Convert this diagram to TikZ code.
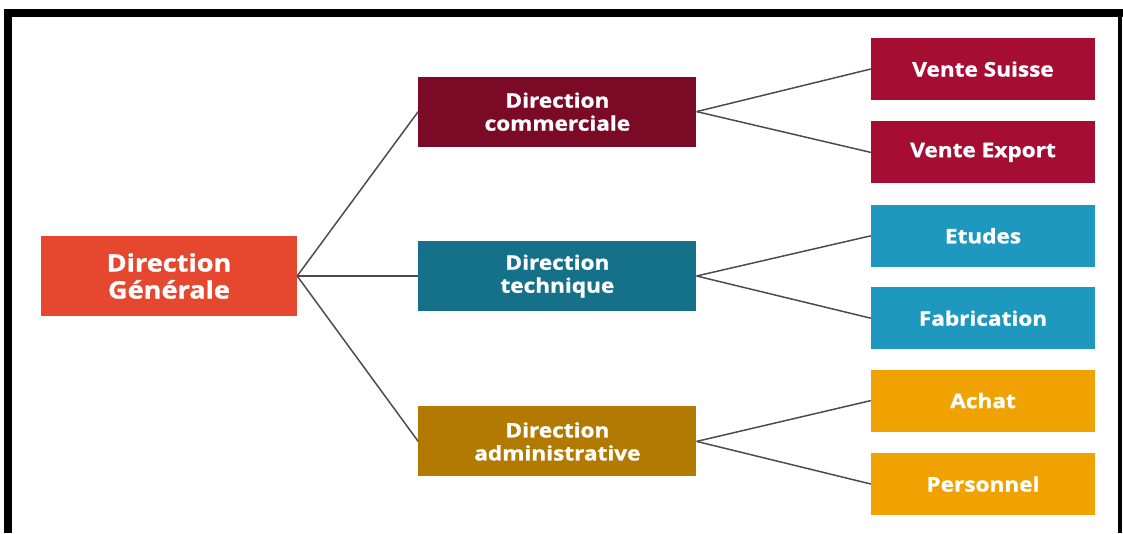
\documentclass[tikz,border=0pt]{standalone}
\usepackage{fontspec}
\setmainfont{Open Sans}[FakeStretch=1.13, BoldFeatures={FakeBold=1.2}]
\usetikzlibrary{positioning}

\definecolor{dgred}{HTML}{E5482F}
\definecolor{comwine}{HTML}{7A0A26}
\definecolor{techteal}{HTML}{15708A}
\definecolor{admochre}{HTML}{B27A00}
\definecolor{saleswine}{HTML}{A50E32}
\definecolor{techblue}{HTML}{1E98BE}
\definecolor{admgold}{HTML}{F0A202}

\begin{document}
\begin{tikzpicture}[
        x=1pt, y=-1pt,
        unit/.style={fill, text=white, align=center, inner sep=0pt, font=\bfseries\fontsize{20}{23}\selectfont},
        head/.style={unit, minimum width=256pt, minimum height=80pt, font=\bfseries\fontsize{24}{27}\selectfont},
        dept/.style={unit, minimum width=278pt, minimum height=70pt},
        team/.style={unit, minimum width=224pt, minimum height=62pt},
        link/.style={draw=black!70, line width=1.5pt}
      ]
      \useasboundingbox (0,0) rectangle (1123,533);

      % frame
      \draw[line width=8pt] (8,533) -- (8,13) -- (1123,13);
      \draw[line width=4pt] (1120,13) -- (1120,533);

      \node (DG) [head, fill=dgred] at (169,276) {Direction\\Générale};

      \node (DT) [dept, fill=techteal, right=121pt of DG] {Direction\\technique};
      \node (DC) [dept, fill=comwine, above=94pt of DT] {Direction\\commerciale};
      \node (DA) [dept, fill=admochre, below=95pt of DT] {Direction\\administrative};

      \node (VS) [team, fill=saleswine] at (983,69) {Vente Suisse};
      \node (VE) [team, fill=saleswine, below=21pt of VS] {Vente Export};
      \node (ET) [team, fill=techblue, below=21pt of VE] {Etudes};
      \node (FA) [team, fill=techblue, below=20pt of ET] {Fabrication};
      \node (AC) [team, fill=admgold, below=20pt of FA] {Achat};
      \node (PE) [team, fill=admgold, below=21pt of AC] {Personnel};

      \path[link] (DG.east) edge (DC.west) edge (DT.west) edge (DA.west);
      \path[link] (DC.east) edge (VS.west) edge (VE.west);
      \path[link] (DT.east) edge (ET.west) edge (FA.west);
      \path[link] (DA.east) edge (AC.west) edge (PE.west);

    \end{tikzpicture}
\end{document}
